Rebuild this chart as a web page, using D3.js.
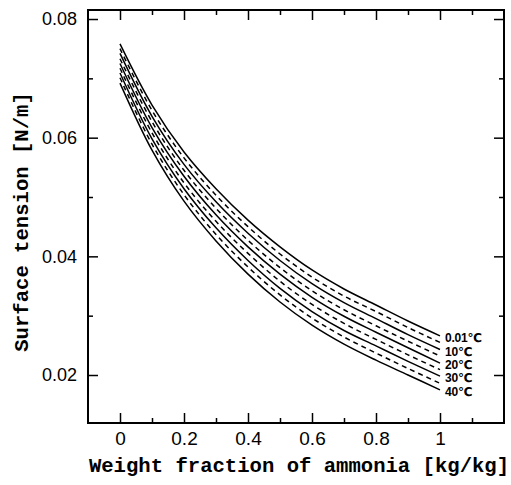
<!DOCTYPE html>
<html>
<head>
<meta charset="utf-8">
<script src="https://cdn.jsdelivr.net/npm/d3@7"></script>
<style>
  html, body { margin: 0; padding: 0; background: #fff; }
  svg { display: block; }
</style>
</head>
<body>
<svg id="chart" width="511" height="485"></svg>
<script>
// ---- data ----
const xFraction = [0, 0.1, 0.2, 0.3, 0.4, 0.5, 0.6, 0.7, 0.8, 0.9, 1.0];
const sigma_T0_01 = [0.0758, 0.0655, 0.0576, 0.0514, 0.0461, 0.0416, 0.0377, 0.0345, 0.0318, 0.0291, 0.0266];
const sigma_T5    = [0.0750, 0.0646, 0.0566, 0.0503, 0.0450, 0.0404, 0.0365, 0.0333, 0.0307, 0.0280, 0.0255];
const sigma_T10   = [0.0742, 0.0636, 0.0555, 0.0492, 0.0439, 0.0393, 0.0354, 0.0322, 0.0295, 0.0268, 0.0243];
const sigma_T15   = [0.0733, 0.0627, 0.0545, 0.0481, 0.0427, 0.0381, 0.0342, 0.0310, 0.0283, 0.0257, 0.0232];
const sigma_T20   = [0.0725, 0.0617, 0.0535, 0.0470, 0.0416, 0.0370, 0.0331, 0.0299, 0.0272, 0.0246, 0.0220];
const sigma_T25   = [0.0717, 0.0608, 0.0524, 0.0459, 0.0405, 0.0358, 0.0319, 0.0287, 0.0260, 0.0234, 0.0209];
const sigma_T30   = [0.0709, 0.0598, 0.0514, 0.0448, 0.0393, 0.0346, 0.0307, 0.0275, 0.0249, 0.0223, 0.0198];
const sigma_T35   = [0.0701, 0.0589, 0.0504, 0.0437, 0.0382, 0.0335, 0.0296, 0.0264, 0.0237, 0.0211, 0.0186];
const sigma_T40   = [0.0692, 0.0579, 0.0493, 0.0426, 0.0370, 0.0323, 0.0284, 0.0252, 0.0225, 0.0200, 0.0175];

const seriesValues = [sigma_T0_01, sigma_T5, sigma_T10, sigma_T15, sigma_T20, sigma_T25, sigma_T30, sigma_T35, sigma_T40];
const seriesDashed = [false, true, false, true, false, true, false, true, false];
const seriesLabels = ["0.01℃", null, "10℃", null, "20℃", null, "30℃", null, "40℃"];

const xMajorTicks = [0, 0.2, 0.4, 0.6, 0.8, 1];
const xMajorLabels = ["0", "0.2", "0.4", "0.6", "0.8", "1"];
const xMinorTicks = [0.1, 0.3, 0.5, 0.7, 0.9, 1.1];
const yMajorTicks = [0.02, 0.04, 0.06, 0.08];
const yMajorLabels = ["0.02", "0.04", "0.06", "0.08"];
const yMinorTicks = [0.03, 0.05, 0.07];

const xTitle = "Weight fraction of ammonia [kg/kg]";
const yTitle = "Surface tension [N/m]";

// ---- layout ----
const L = 88, R = 504, T = 10, B = 423;
const svg = d3.select("#chart");

const x = d3.scaleLinear().domain([-0.1, 1.2]).range([L, R]);
const y = d3.scaleLinear().domain([0.01191, 0.08152]).range([B, T]);

const majorLen = 10, minorLen = 5;

// curves
const line = d3.line()
  .x((d, i) => x(xFraction[i]))
  .y(d => y(d))
  .curve(d3.curveCatmullRom.alpha(0.5));

const g = svg.append("g");
seriesValues.forEach((vals, k) => {
  g.append("path")
    .attr("d", line(vals))
    .attr("fill", "none")
    .attr("stroke", "#000")
    .attr("stroke-width", 1.5)
    .attr("stroke-dasharray", seriesDashed[k] ? "5,4" : null);
});

// curve labels
seriesValues.forEach((vals, k) => {
  if (!seriesLabels[k]) return;
  g.append("text")
    .attr("x", x(1) + 5)
    .attr("y", y(vals[vals.length - 1]) + 2)
    .attr("dy", "0.35em")
    .attr("font-family", "'Liberation Sans', 'DejaVu Sans', sans-serif")
    .attr("font-weight", "bold")
    .attr("font-size", 12)
    .attr("letter-spacing", -0.2)
    .text(seriesLabels[k]);
});

// axes (all four sides, ticks inward)
const axG = svg.append("g");
const axisB = d3.axisBottom(x).tickValues(xMajorTicks).tickSize(-majorLen)
  .tickFormat((d, i) => xMajorLabels[i]).tickPadding(9);
const axisBm = d3.axisBottom(x).tickValues(xMinorTicks).tickSize(-minorLen).tickFormat("");
const axisT = d3.axisTop(x).tickValues(xMajorTicks).tickSize(-majorLen).tickFormat("");
const axisTm = d3.axisTop(x).tickValues(xMinorTicks).tickSize(-minorLen).tickFormat("");
const axisL = d3.axisLeft(y).tickValues(yMajorTicks).tickSize(-majorLen)
  .tickFormat((d, i) => yMajorLabels[i]).tickPadding(11);
const axisLm = d3.axisLeft(y).tickValues(yMinorTicks).tickSize(-minorLen).tickFormat("");
const axisR = d3.axisRight(y).tickValues(yMajorTicks).tickSize(-majorLen).tickFormat("");
const axisRm = d3.axisRight(y).tickValues(yMinorTicks).tickSize(-minorLen).tickFormat("");

function style(sel) {
  sel.select(".domain").remove();
  sel.selectAll(".tick line").attr("stroke", "#000").attr("stroke-width", 1.5);
  sel.selectAll("text").attr("fill", "#000")
    .attr("font-family", "'Liberation Sans', Arial, sans-serif");
}
axG.append("g").attr("transform", `translate(0,${B})`).call(axisB).call(style)
  .selectAll("text").attr("font-size", 19);
axG.append("g").attr("transform", `translate(0,${B})`).call(axisBm).call(style);
axG.append("g").attr("transform", `translate(0,${T})`).call(axisT).call(style);
axG.append("g").attr("transform", `translate(0,${T})`).call(axisTm).call(style);
axG.append("g").attr("transform", `translate(${L},0)`).call(axisL).call(style)
  .selectAll("text").attr("font-size", 18);
axG.append("g").attr("transform", `translate(${L},0)`).call(axisLm).call(style);
axG.append("g").attr("transform", `translate(${R},0)`).call(axisR).call(style);
axG.append("g").attr("transform", `translate(${R},0)`).call(axisRm).call(style);

// frame
svg.append("rect")
  .attr("x", L).attr("y", T).attr("width", R - L).attr("height", B - T)
  .attr("fill", "none").attr("stroke", "#000").attr("stroke-width", 2);

// titles
svg.append("text")
  .attr("x", 299).attr("y", 472)
  .attr("text-anchor", "middle")
  .attr("font-family", "'Liberation Mono', 'DejaVu Sans Mono', monospace")
  .attr("font-weight", "bold")
  .attr("font-size", 20.6)
  .text(xTitle);

svg.append("text")
  .attr("transform", "translate(28,222) rotate(-90)")
  .attr("text-anchor", "middle")
  .attr("font-family", "'Liberation Mono', 'DejaVu Sans Mono', monospace")
  .attr("font-weight", "bold")
  .attr("font-size", 20.6)
  .text(yTitle);
</script>
</body>
</html>
